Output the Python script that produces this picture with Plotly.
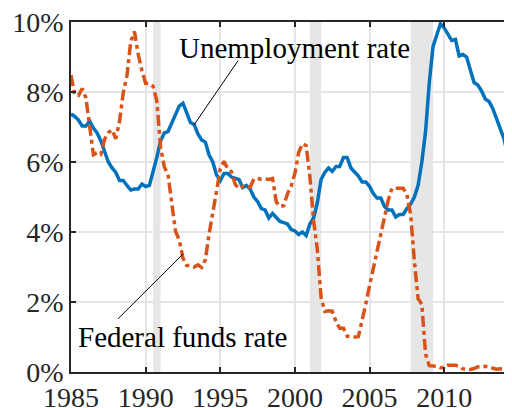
import plotly.graph_objects as go

# ─────────────────────────────────────────────────────────
# DATA — quarterly averages, 1985Q1 .. 2014Q4 (percent)
# ─────────────────────────────────────────────────────────
years = list(range(1985, 2015))
quarter_offsets = [0.0, 0.25, 0.5, 0.75]

unemployment = [
    7.37, 7.30, 7.20, 7.03,   # 1985
    7.03, 7.17, 6.97, 6.83,   # 1986
    6.60, 6.27, 6.00, 5.83,   # 1987
    5.70, 5.47, 5.47, 5.33,   # 1988
    5.20, 5.23, 5.23, 5.37,   # 1989
    5.30, 5.33, 5.70, 6.13,   # 1990
    6.60, 6.83, 6.87, 7.10,   # 1991
    7.37, 7.60, 7.68, 7.37,   # 1992
    7.13, 7.07, 6.80, 6.63,   # 1993
    6.57, 6.20, 6.00, 5.63,   # 1994
    5.47, 5.67, 5.67, 5.57,   # 1995
    5.53, 5.50, 5.27, 5.33,   # 1996
    5.23, 5.00, 4.87, 4.67,   # 1997
    4.63, 4.40, 4.53, 4.43,   # 1998
    4.30, 4.27, 4.23, 4.07,   # 1999
    4.03, 3.93, 4.00, 3.90,   # 2000
    4.23, 4.40, 4.83, 5.50,   # 2001
    5.70, 5.83, 5.73, 5.87,   # 2002
    5.87, 6.13, 6.13, 5.83,   # 2003
    5.70, 5.60, 5.43, 5.43,   # 2004
    5.30, 5.10, 4.97, 4.97,   # 2005
    4.73, 4.63, 4.63, 4.43,   # 2006
    4.50, 4.50, 4.67, 4.80,   # 2007
    5.00, 5.33, 6.00, 6.87,   # 2008
    8.27, 9.30, 9.63, 9.95,   # 2009
    9.83, 9.63, 9.47, 9.50,   # 2010
    9.03, 9.07, 9.00, 8.63,   # 2011
    8.27, 8.20, 8.03, 7.80,   # 2012
    7.73, 7.53, 7.23, 6.93,   # 2013
    6.67, 6.20, 6.07, 5.70,   # 2014
]

fed_funds = [
    8.48, 7.92, 7.90, 8.10,   # 1985
    7.83, 6.92, 6.21, 6.27,   # 1986
    6.22, 6.65, 6.84, 6.92,   # 1987
    6.66, 7.16, 7.98, 8.47,   # 1988
    9.44, 9.73, 9.08, 8.61,   # 1989
    8.25, 8.24, 8.16, 7.74,   # 1990
    6.43, 5.86, 5.64, 4.82,   # 1991
    4.02, 3.77, 3.26, 3.04,   # 1992
    3.04, 3.00, 3.06, 2.99,   # 1993
    3.21, 3.94, 4.49, 5.17,   # 1994
    5.81, 6.02, 5.80, 5.72,   # 1995
    5.36, 5.24, 5.31, 5.28,   # 1996
    5.28, 5.52, 5.53, 5.51,   # 1997
    5.52, 5.50, 5.53, 4.86,   # 1998
    4.73, 4.75, 5.09, 5.31,   # 1999
    5.68, 6.27, 6.52, 6.47,   # 2000
    5.59, 4.33, 3.50, 2.13,   # 2001
    1.73, 1.75, 1.74, 1.44,   # 2002
    1.25, 1.25, 1.02, 1.00,   # 2003
    1.00, 1.01, 1.43, 1.95,   # 2004
    2.47, 2.94, 3.46, 3.98,   # 2005
    4.46, 4.91, 5.25, 5.25,   # 2006
    5.26, 5.25, 5.07, 4.50,   # 2007
    3.18, 2.09, 1.94, 0.51,   # 2008
    0.18, 0.18, 0.16, 0.12,   # 2009
    0.13, 0.19, 0.19, 0.19,   # 2010
    0.16, 0.09, 0.08, 0.07,   # 2011
    0.10, 0.15, 0.14, 0.16,   # 2012
    0.14, 0.12, 0.08, 0.09,   # 2013
    0.07, 0.09, 0.09, 0.10,   # 2014
]

# recessions (NBER, quarterly dating)
recession_start = [1990.5, 2001.0, 2007.75]
recession_end   = [1991.0, 2001.75, 2009.25]

x_ticks = [1985, 1990, 1995, 2000, 2005, 2010]
x_tick_labels = ["1985", "1990", "1995", "2000", "2005", "2010"]
y_ticks = [0, 2, 4, 6, 8, 10]
y_tick_labels = ["0%", "2%", "4%", "6%", "8%", "10%"]

# text labels + leader lines (x in years, y in percent)
unemp_label = "Unemployment rate"
unemp_label_pos = (1999.95, 9.25)
unemp_leader = (1996.2, 8.9, 1993.24, 7.06)

ff_label = "Federal funds rate"
ff_label_pos = (1992.45, 1.0)
ff_leader = (1988.15, 1.52, 1992.5, 3.37)

dates = [y + q for y in years for q in quarter_offsets]

BLUE = "#0072BD"
ORANGE = "#D95319"
FONT = "Liberation Serif, Times New Roman, serif"

# ─────────────────────────────────────────────────────────
# FIGURE
# ─────────────────────────────────────────────────────────
fig = go.Figure()

fig.add_trace(go.Scatter(
    x=dates, y=unemployment, mode="lines",
    line=dict(color=BLUE, width=3.5),
    showlegend=False,
))
fig.add_trace(go.Scatter(
    x=dates, y=fed_funds, mode="lines",
    line=dict(color=ORANGE, width=3.5, dash="11px,4px,4px,4px"),
    showlegend=False,
))

for x0, x1 in zip(recession_start, recession_end):
    fig.add_shape(type="rect", xref="x", yref="y",
                  x0=x0, x1=x1, y0=0, y1=10,
                  fillcolor="#e6e6e6", line=dict(width=0), layer="below")

for (xa, ya, xb, yb) in [unemp_leader, ff_leader]:
    fig.add_shape(type="line", xref="x", yref="y",
                  x0=xa, y0=ya, x1=xb, y1=yb,
                  line=dict(color="black", width=1))

for txt, (tx, ty) in [(unemp_label, unemp_label_pos), (ff_label, ff_label_pos)]:
    fig.add_annotation(x=tx, y=ty, xref="x", yref="y", text=txt,
                       showarrow=False, xanchor="center", yanchor="middle",
                       font=dict(family=FONT, size=29, color="black"))

axis_style = dict(
    showgrid=True, gridcolor="#e5e5e5", gridwidth=1.5,
    showline=True, linecolor="#262626", linewidth=1.5,
    ticks="inside", ticklen=5, tickcolor="#262626", tickwidth=1.5,
    zeroline=False, automargin=False, tickmode="array",
    ticklabeloverflow="allow",
    tickfont=dict(family=FONT, size=28, color="#262626"),
)

fig.update_xaxes(range=[1985, 2014.54], tickvals=x_ticks, ticktext=x_tick_labels,
                 mirror="ticks", **axis_style)
fig.update_yaxes(range=[0, 10], tickvals=y_ticks, ticktext=y_tick_labels,
                 mirror=False, **axis_style)

# the page body adds an 8px offset, so the figure is shrunk to stay inside the window
fig.update_layout(
    width=504, height=400,
    margin=dict(l=63, r=0, t=14, b=36, autoexpand=False),
    plot_bgcolor="white", paper_bgcolor="white",
    font=dict(family=FONT),
)

fig.write_html("out.html")
